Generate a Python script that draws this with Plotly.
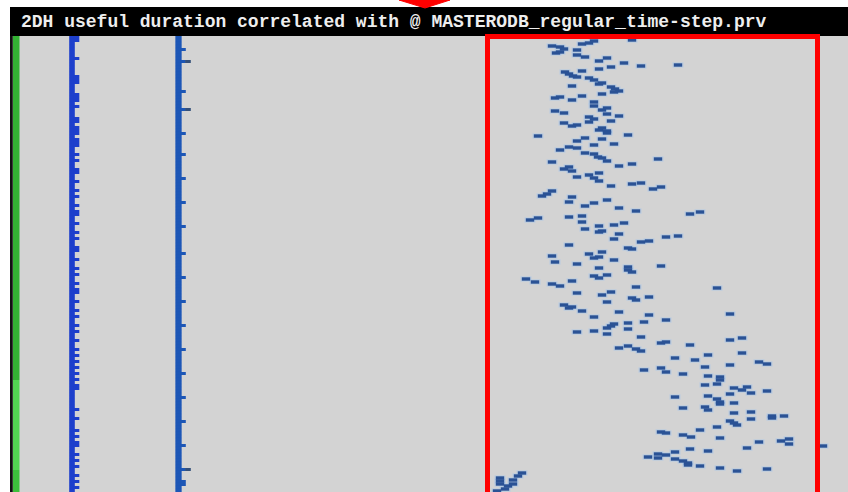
import plotly.graph_objects as go

W, H = 848, 492
title_text = "2DH useful duration correlated with @ MASTERODB_regular_time-step.prv"

# --- correlated 2D histogram cells (duration bin position, thread position) ---
dot_duration = [
    552, 560, 564, 556, 560, 577, 582, 589, 594, 577, 585, 599, 607, 624, 611, 599, 641, 678, 632, 582,
    565, 569, 573, 577, 589, 594, 599, 602, 572, 611, 615, 619, 614, 602, 582, 555, 560, 572, 594, 594,
    602, 607, 555, 564, 607, 619, 589, 594, 589, 611, 564, 572, 577, 599, 602, 607, 607, 538, 628, 585,
    602, 577, 577, 614, 594, 569,
    560, 585, 594, 598, 602, 607, 552, 619, 632, 658, 564, 569, 572, 577, 589, 594, 599, 599, 611, 632,
    641, 653, 661, 542, 547, 552, 572, 569, 607, 585, 594, 619, 636, 690, 700, 530, 538, 569, 582, 582,
    599, 602, 599, 585, 614, 624, 619, 614, 641, 649, 666, 678, 569, 552, 589, 594, 599, 602, 628, 632,
    614,
    555, 577, 599, 628, 628, 632, 661, 594, 599, 607, 526, 535, 552, 560, 572, 577, 602, 611, 636, 632,
    636, 649, 607, 717, 564, 569, 572, 582, 619, 594, 649, 644, 666, 607, 611, 614, 628, 628, 730, 577,
    594, 607, 641, 619, 628, 636, 641, 661, 666, 690, 730, 742, 742, 675, 708, 695, 705, 730, 759, 767,
    644, 661, 666, 683,
    708, 720, 720, 717, 705, 734, 742, 747, 730, 751, 767, 675, 708, 717, 720, 720, 734, 705, 708, 683,
    734, 751, 751, 772, 772, 784, 730, 734, 737, 717, 661, 666, 683, 691, 700, 720, 759, 781, 789, 789,
    747, 690, 708, 648, 658, 658, 666, 675, 675, 683, 688, 688, 700, 720, 737, 767, 823,
    500, 500, 500, 513, 518, 522, 508, 513, 505, 497,
]
dot_thread = [
    46, 47, 49, 53, 52, 50, 44, 43, 41, 55, 57, 61, 58, 63, 67, 69, 66, 65, 40, 71,
    72, 74, 76, 77, 78, 80, 84, 83, 86, 87, 89, 91, 92, 94, 96, 98, 97, 100, 102, 106,
    110, 108, 111, 113, 114, 116, 117, 119, 122, 121, 123, 126, 125, 130, 128, 131, 133, 136, 135, 138,
    139, 141, 148, 144, 145, 147,
    150, 153, 154, 157, 158, 161, 162, 166, 164, 159, 169, 167, 171, 177, 175, 178, 173, 181, 186, 184,
    183, 189, 187, 196, 194, 191, 197, 202, 200, 206, 203, 208, 211, 214, 212, 220, 218, 217, 216, 222,
    226, 231, 232, 229, 225, 223, 234, 239, 242, 241, 237, 236, 245, 256, 254, 258, 257, 252, 248, 249,
    260,
    262, 264, 268, 267, 270, 272, 266, 276, 278, 275, 279, 282, 284, 286, 281, 293, 295, 292, 287, 298,
    300, 297, 302, 288, 305, 308, 307, 311, 312, 317, 315, 322, 320, 328, 326, 324, 323, 329, 314, 332,
    331, 334, 337, 348, 346, 349, 351, 343, 342, 345, 340, 338, 353, 358, 355, 360, 367, 365, 362, 364,
    370, 368, 372, 374,
    376, 377, 380, 384, 385, 388, 390, 387, 394, 393, 391, 397, 396, 399, 402, 404, 403, 407, 410, 408,
    413, 412, 419, 416, 418, 416, 421, 423, 425, 427, 432, 433, 435, 437, 430, 438, 442, 441, 439, 444,
    448, 449, 451, 457, 454, 458, 455, 452, 459, 461, 463, 465, 466, 468, 471, 469, 446,
    478, 481, 484, 480, 476, 473, 486, 484, 489, 491,
]

# --- two left columns of the histogram: per-row thread cells ---
n_rows = 152
col1_bin, col1_bump_bin = 72, 76.5
col2_bin, col2_bump_bin, col2_far_bin = 178.5, 183, 188
col1_bump_rows = [0, 1, 7, 13, 14, 15, 19, 20, 21, 23, 27, 28, 30, 31, 32, 34, 35, 36,
                  39, 41, 44, 45, 48, 51, 53, 56, 58, 59, 62, 65, 67, 70, 71, 74, 77, 79,
                  82, 84, 85, 88, 91, 93, 96, 98, 101, 104, 106, 108, 110, 112, 114, 116,
                  117, 124, 127, 131, 133, 135, 136, 139, 141, 143, 146, 148, 150]
col2_bump_rows = [4, 8, 18, 24, 32, 39, 47, 55, 63, 72, 80, 88, 96, 104, 112, 120,
                  128, 136, 144, 148, 149]
col2_far_rows = [8, 24, 144]

row_top, row_h = 37.5, 3
def row_y(rows):
    return [row_top + row_h * r for r in rows]

all_rows = list(range(n_rows))

COL1 = "#1d3fcc"
COL2 = "#1c56b6"
DOT = "#2a52955"[:7]

fig = go.Figure()

def cells(x, y, color, size, width):
    fig.add_trace(go.Scatter(
        x=x, y=y, mode="markers", hoverinfo="skip", showlegend=False,
        marker=dict(symbol="line-ew", size=size, color=color,
                    line=dict(width=width, color=color)),
    ))

cells([col1_bin] * n_rows, row_y(all_rows), COL1, 4, 3.1)
cells([col1_bump_bin] * len(col1_bump_rows), row_y(col1_bump_rows), COL1, 4, 3)
cells([col2_bin] * n_rows, row_y(all_rows), COL2, 4.5, 3.1)
cells([col2_bump_bin] * len(col2_bump_rows), row_y(col2_bump_rows), COL2, 4, 3)
cells([col2_far_bin] * len(col2_far_rows), row_y(col2_far_rows), "#34507a", 4, 3)

# halo then cells of the correlated cloud
cells(dot_duration, dot_thread, "rgba(170,200,235,0.5)", 8, 5.5)
cells(dot_duration, dot_thread, DOT, 6, 3.4)

shapes = [
    dict(type="rect", xref="x", yref="y", x0=12.5, x1=W, y0=36, y1=H,
         fillcolor="#d3d3d3", line_width=0, layer="below"),
    dict(type="rect", xref="x", yref="y", x0=13, x1=19.5, y0=36, y1=380,
         fillcolor="#33b233", line_width=0, layer="below"),
    dict(type="rect", xref="x", yref="y", x0=13, x1=19.5, y0=380, y1=470,
         fillcolor="#52d452", line_width=0, layer="below"),
    dict(type="rect", xref="x", yref="y", x0=13, x1=19.5, y0=470, y1=H,
         fillcolor="#3cbf3c", line_width=0, layer="below"),
    dict(type="rect", xref="x", yref="y", x0=10, x1=12.8, y0=7, y1=H,
         fillcolor="#111111", line_width=0, layer="above"),
    dict(type="rect", xref="x", yref="y", x0=10, x1=W, y0=7, y1=36,
         fillcolor="#000000", line_width=0, layer="above"),
    dict(type="rect", xref="x", yref="y", x0=487.5, x1=817.5, y0=36.5, y1=H + 10,
         line=dict(color="#ff0000", width=5), fillcolor="rgba(0,0,0,0)", layer="above"),
    dict(type="path", xref="x", yref="y", path="M 399,0 L 450,0 L 425,8 Z",
         fillcolor="#ff0000", line=dict(color="#ff0000", width=1), layer="above"),
]

fig.update_layout(
    width=W, height=H, autosize=False,
    margin=dict(l=0, r=0, t=0, b=0, pad=0),
    paper_bgcolor="white", plot_bgcolor="white",
    xaxis=dict(range=[0, W], visible=False, showgrid=False, zeroline=False, fixedrange=True),
    yaxis=dict(range=[H, 0], visible=False, showgrid=False, zeroline=False, fixedrange=True),
    shapes=shapes,
    annotations=[dict(
        x=19, y=22, xref="x", yref="y", xanchor="left", yanchor="middle",
        text="<b>" + title_text + "</b>", showarrow=False,
        font=dict(family="Liberation Mono", size=18, color="#eeeeee"),
    )],
    showlegend=False,
)

fig.write_html(
    "out.html",
    config={"displayModeBar": False, "staticPlot": True},
    post_script="document.body.style.margin='0';document.body.style.overflow='hidden';",
)
